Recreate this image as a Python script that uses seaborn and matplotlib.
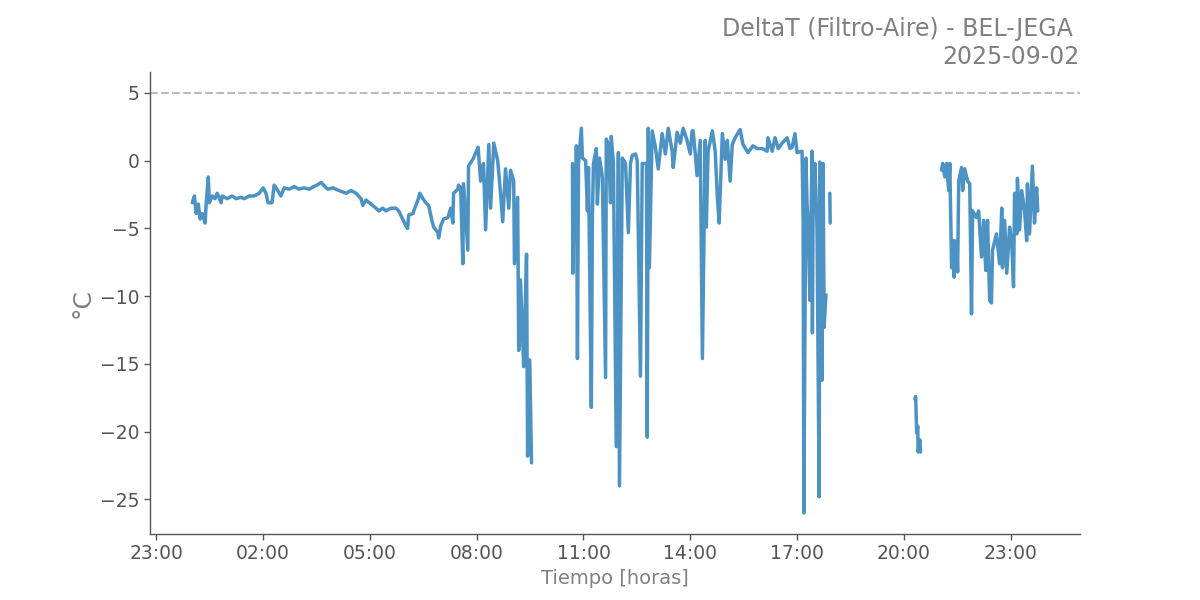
import numpy as np
import pandas as pd
import matplotlib
matplotlib.use("Agg")
import matplotlib.pyplot as plt
import seaborn as sns
from matplotlib.ticker import FixedLocator, FuncFormatter

# hours since 00:00 of 2025-09-02 ; NaN marks gaps in the record
hours = [
    0.01, 0.07, 0.12, 0.18, 0.23, 0.29, 0.37, 0.40, 0.46, 0.49,
    0.57, 0.65, 0.71, 0.82, 0.85, 0.99, 1.13, 1.24, 1.38, 1.47,
    1.61, 1.75, 1.89, 2.00, 2.08, 2.14, 2.25, 2.31, 2.39, 2.50,
    2.59, 2.73, 2.87, 3.01, 3.15, 3.29, 3.43, 3.51, 3.63, 3.77,
    3.82, 3.96, 4.13, 4.33, 4.47, 4.61, 4.75, 4.80, 4.89, 5.03,
    5.17, 5.25, 5.36, 5.45, 5.59, 5.73, 5.81, 5.92, 6.01, 6.06,
    6.09, 6.21, 6.26, 6.35, 6.40, 6.49, 6.57, 6.65, 6.74, 6.79,
    6.91, 6.93, 6.99, 7.07, 7.19, 7.27, 7.33, 7.35, 7.47, 7.49,
    7.55, 7.61, 7.63, 7.75, 7.77, 7.91, 8.04, 8.11, 8.19,
    8.25, 8.34, 8.39, 8.48, 8.59, 8.67, 8.73, 8.81, 8.90, 8.95, 9.04, 9.06, 9.15, 9.18, 9.23,
    9.32, 9.40, 9.43, 9.49, 9.54,
    10.10,
    10.69, 10.70, 10.75, 10.78, 10.80, 10.83, 10.86, 10.94, 10.97, 11.06, 11.11, 11.14, 11.22,
    11.25, 11.28, 11.36, 11.39, 11.45, 11.53, 11.62, 11.64, 11.70, 11.76, 11.78, 11.84, 11.92,
    11.98, 12.01, 12.09, 12.18, 12.26, 12.32, 12.37, 12.46, 12.51, 12.60, 12.65, 12.77, 12.79,
    12.82, 12.85, 12.93, 13.02, 13.10, 13.21, 13.30, 13.38, 13.49, 13.52, 13.63, 13.72, 13.80,
    13.91, 14.00, 14.05, 14.08, 14.14, 14.19, 14.28, 14.34, 14.42, 14.45, 14.50, 14.62, 14.70,
    14.76, 14.81, 14.90, 14.98, 15.04, 15.12, 15.18, 15.26, 15.40, 15.48, 15.62, 15.76, 15.88,
    16.02, 16.16, 16.18, 16.30, 16.38, 16.47, 16.58, 16.72, 16.80, 16.86, 16.94, 17.00, 17.14,
    17.17, 17.19, 17.25, 17.28, 17.31, 17.36, 17.42, 17.43, 17.45, 17.50, 17.56, 17.62, 17.64,
    17.70, 17.73, 17.76, 17.81,
    17.87,
    17.92, 17.93,
    19.10,
    20.31, 20.33, 20.36, 20.39, 20.40, 20.45, 20.47,
    20.80,
    21.06, 21.09, 21.15, 21.20, 21.26, 21.29, 21.34, 21.40, 21.41, 21.48, 21.51, 21.54, 21.62,
    21.65, 21.71, 21.79, 21.85, 21.90, 21.93, 22.04, 22.10, 22.18, 22.24, 22.30, 22.35, 22.41,
    22.46, 22.49, 22.60, 22.69, 22.75, 22.77, 22.83, 22.89, 22.97, 23.03, 23.08, 23.11, 23.17,
    23.19, 23.25, 23.31, 23.39, 23.45, 23.47, 23.53, 23.59, 23.61, 23.67, 23.73, 23.76,
]

delta_t = [
    -3.1, -2.6, -3.9, -3.2, -4.3, -3.9, -4.6, -3.2, -1.2, -3.1,
    -2.6, -2.8, -2.4, -3.1, -2.6, -2.8, -2.6, -2.8, -2.7, -2.8,
    -2.6, -2.6, -2.4, -2.0, -2.4, -3.1, -3.1, -1.8, -2.1, -2.6,
    -2.0, -2.1, -1.9, -2.1, -2.0, -2.1, -1.9, -1.8, -1.6, -2.0,
    -2.1, -2.0, -2.2, -2.4, -2.2, -2.4, -2.8, -3.3, -2.9, -3.2,
    -3.5, -3.7, -3.5, -3.7, -3.5, -3.5, -3.7, -4.3, -4.8, -5.0,
    -4.0, -3.9, -3.5, -2.9, -2.4, -2.8, -3.1, -3.3, -4.4, -4.9,
    -5.3, -5.7, -4.8, -4.3, -4.2, -3.5, -4.6, -2.4, -2.1, -1.8,
    -2.0, -7.6, -1.7, -6.6, -0.4, 0.2, 1.0, -1.5, -0.2,
    -5.1, 1.2, -3.5, 1.3, 0.0, -2.4, -4.5, -0.6, -3.5, -0.7, -1.5, -7.6, -2.7, -14.0, -8.8,
    -15.2, -6.9, -21.8, -14.7, -22.3,
    np.nan,
    -0.2, -8.3, -0.3, -5.4, 1.1, -14.6, -0.2, 2.4, 0.2, 0.0, -3.7, -0.5, -18.2,
    -4.2, -0.2, 0.9, -3.2, 0.2, -1.2, -16.0, 1.6, 1.2, -3.1, 1.8, -0.2, -21.1,
    0.6, -24.0, 0.2, -0.2, -5.3, -0.2, 0.4, 0.5, 0.0, -15.9, -0.2, -0.2, -20.4,
    2.4, -7.9, 2.2, 1.0, -0.6, 2.0, 0.5, 2.4, 0.7, -0.5, 2.1, 1.3, 2.4,
    1.5, 0.5, 2.2, 2.2, 0.5, -1.1, 1.5, -14.6, 1.5, -4.9, 0.7, 2.2, 0.7,
    -2.7, -4.6, 2.0, 0.1, 1.5, -1.5, 1.2, 1.7, 2.3, 1.2, 0.6, 1.1, 0.9,
    0.9, 0.7, 1.7, 0.7, 1.7, 0.9, 1.3, 1.7, 0.9, 1.0, 2.0, 0.6, 0.7,
    -4.4, -26.0, 0.2, -3.2, -4.6, -10.3, 0.7, -12.7, -3.5, -0.2, -4.9, -24.8, -0.1,
    -16.2, -0.2, -12.3, -9.9,
    np.nan,
    -2.4, -4.6,
    np.nan,
    -17.6, -17.4, -20.1, -19.6, -21.5, -20.6, -21.5,
    np.nan,
    -0.7, -0.2, -1.2, -0.2, -2.2, -0.2, -7.9, -5.9, -8.6, -5.9, -8.2, -1.5, -0.5,
    -2.2, -0.6, -1.5, -1.7, -11.3, -3.7, -4.2, -3.7, -7.1, -4.4, -8.1, -4.4, -10.3,
    -10.5, -6.6, -5.4, -7.6, -3.5, -7.9, -4.4, -8.3, -4.9, -6.1, -9.3, -2.4, -5.4,
    -1.3, -5.1, -2.2, -3.7, -5.9, -1.7, -5.4, -1.5, -0.4, -4.6, -2.0, -3.7,
]

x_ticks = [-1, 2, 5, 8, 11, 14, 17, 20, 23]
limit_value = 5
title_text = "DeltaT (Filtro-Aire) - BEL-JEGA \n2025-09-02"
x_label = "Tiempo [horas]"
y_label = "°C"

df = pd.DataFrame({"hora": hours, "deltaT": delta_t})

sns.set_style("white")
plt.rcParams["font.family"] = ["DejaVu Sans"]

fig, ax = plt.subplots(figsize=(12, 6), dpi=100)
fig.subplots_adjust(left=0.125, right=0.9, top=0.88, bottom=0.11)

ax.plot(df["hora"], df["deltaT"], color="#1f77b4", alpha=0.8, linewidth=2.5)
ax.axhline(limit_value, color="#bbbbbb", linestyle="--", linewidth=1.5)

ax.xaxis.set_major_locator(FixedLocator(x_ticks))
ax.xaxis.set_major_formatter(FuncFormatter(lambda v, p: f"{int(round(v)) % 24:02d}:00"))

ax.set_title(title_text, loc="right", fontsize=17, color="#808080")
ax.set_xlabel(x_label, fontsize=14, color="#808080")
ax.set_ylabel(y_label, fontsize=18, color="#808080")

sns.despine(ax=ax)
for s in ["left", "bottom"]:
    ax.spines[s].set_color("#555555")
    ax.spines[s].set_linewidth(1.0)
ax.tick_params(axis="both", which="major", labelsize=13.5, labelcolor="#555555",
               color="#555555", length=4, width=1, bottom=True, left=True)

fig.savefig("out.png", dpi=100)
